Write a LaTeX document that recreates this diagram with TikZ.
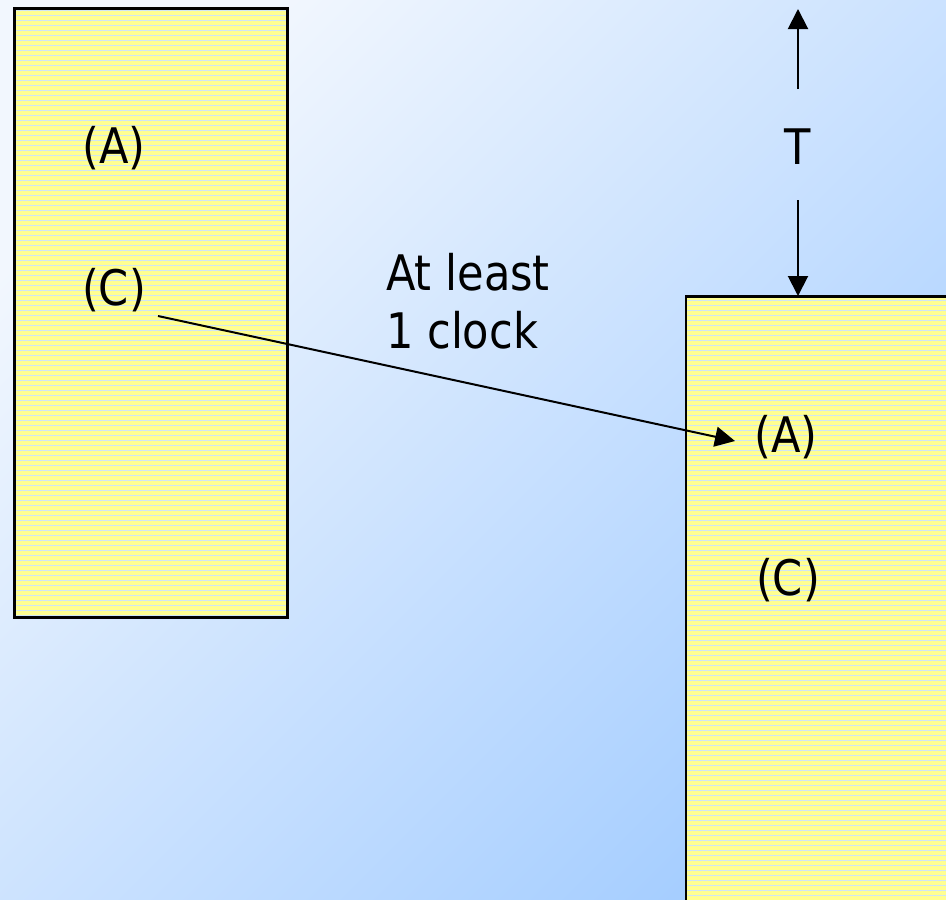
\documentclass[tikz,border=0pt]{standalone}
\usepackage{fontspec}
\setmainfont{DejaVu Sans}[FakeStretch=0.88]
\usetikzlibrary{arrows.meta,patterns.meta}
\definecolor{bglight}{RGB}{242,247,254}
\definecolor{bgdark}{RGB}{166,206,255}
\definecolor{boxyellow}{RGB}{255,255,145}
\definecolor{stripe}{RGB}{205,228,250}
\tikzset{
  lbl/.style={font=\fontsize{49}{58}\selectfont, inner sep=0pt},
  blockbox/.style={fill=boxyellow, inner sep=0pt, anchor=north west},
  border/.style={draw=black, line width=2.5pt},
  stripes/.style={pattern={Lines[angle=0,distance=5pt,line width=0.8pt]}, pattern color=stripe},
  conn/.style={line width=2pt, -{Triangle[length=20pt,width=20pt]}}
}
\begin{document}
\begin{tikzpicture}[x=1pt,y=-1pt]
\useasboundingbox (0,0) rectangle (946,900);
\shade[top color=bglight, bottom color=bgdark, shading angle=45] (0,0) rectangle (946,900);
% left block
\node[blockbox, minimum width=272.5pt, minimum height=608.5pt] (left) at (14.5,8.5) {};
\fill[stripes] (left.north west) rectangle (left.south east);
\draw[border] (left.north west) rectangle (left.south east);
% right block
\node[blockbox, minimum width=300pt, minimum height=620pt] (right) at (686,296.5) {};
\fill[stripes] (right.north west) rectangle (right.south east);
\draw[border] (right.north west) rectangle (right.south east);
% labels
\node[lbl] (lA) at (114,148.5) {(A)};
\node[lbl] (lC) at (114,290) {(C)};
\node[lbl] (rA) at (786,437) {(A)};
\node[lbl] (rC) at (788,580) {(C)};
\node[lbl] (T) at (798,147) {T};
\node[lbl, align=left, anchor=north west] (clk) at (386,253) {At least\\1 clock};
% T arrows
\coordinate (tupS) at (798,89);
\coordinate (tupE) at (798,9);
\coordinate (tdnS) at (798,200);
\coordinate (tdnE) at (798,296);
\draw[conn] (tupS) -- (tupE);
\draw[conn] (tdnS) -- (tdnE);
% connector
\coordinate (cS) at (158,316);
\coordinate (cE) at (735,441);
\draw[conn] (cS) -- (cE);
\end{tikzpicture}
\end{document}
